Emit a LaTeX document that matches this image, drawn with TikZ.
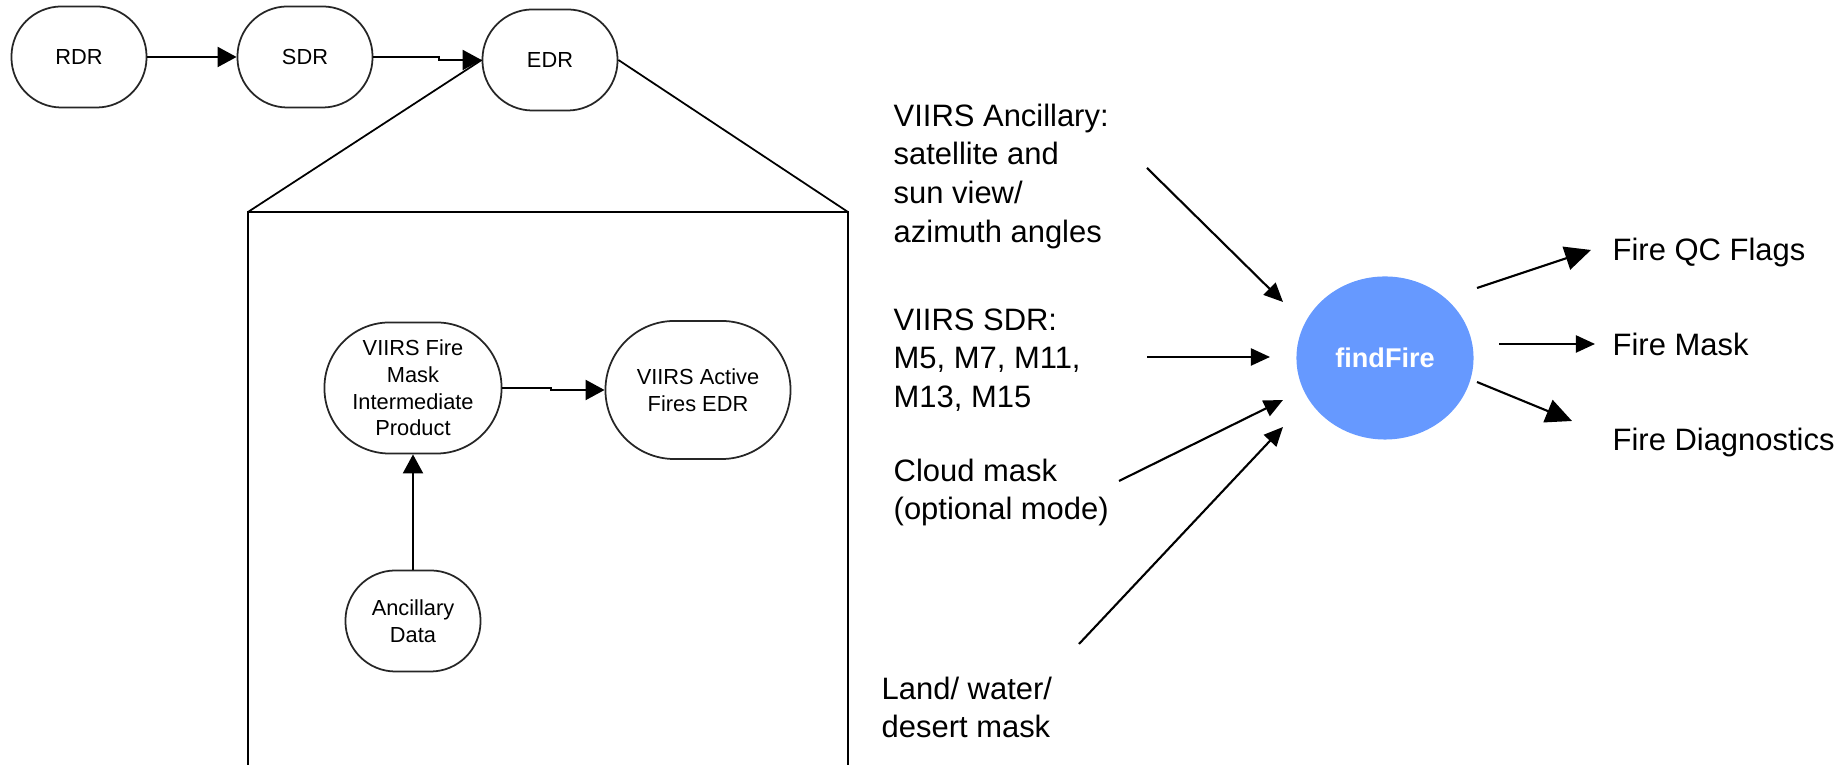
\documentclass[tikz,border=0pt]{standalone}
\usepackage{fontspec}
\setmainfont{Liberation Sans}
\usetikzlibrary{arrows.meta,shapes.geometric,positioning}
\definecolor{fireblue}{RGB}{102,153,255}
\begin{document}
\begin{tikzpicture}[x=0.01cm,y=-0.01cm]
	\useasboundingbox (0,0) rectangle (1847,765);
	% Define the styles
	\tikzstyle{stage} = [draw=black!85, line width=0.5pt, rectangle, rounded corners=0.5cm, minimum width=1.35cm, minimum height=1.01cm, align=center, inner sep=0pt, font=\fontsize{6.2}{7.6}\selectfont];
	\tikzstyle{flow} = [-{Triangle[length=0.19cm,width=0.2cm]}, line width=0.6pt];
	\tikzstyle{intext} = [anchor=north west, align=left, inner sep=0pt, font=\fontsize{8.8}{11}\selectfont];
	\tikzstyle{feed} = [-{Triangle[length=0.19cm,width=0.17cm]}, line width=0.6pt];
	\tikzstyle{bigfeed} = [-{Triangle[length=0.26cm,width=0.24cm]}, line width=0.6pt];
	
	% Processing chain
	\node[stage] (rdr) at (79,57) {RDR};
	\node[stage] (sdr) at (305,57) {SDR};
	\node[stage] (edr) at (550,60) {EDR};
	\draw[flow] (rdr) -- (sdr);
	\draw[flow] (sdr.east) -- ++(66,0) |- (edr.west);
	
	% Zoom box under EDR
	\coordinate (boxtl) at (248,212);
	\coordinate (boxtr) at (848,212);
	\draw[line width=0.6pt] (248,765) -- (boxtl) -- (boxtr) -- (848,765);
	\draw[line width=0.5pt] (boxtl) -- (edr.west);
	\draw[line width=0.5pt] (edr.east) -- (boxtr);
	
	\node[stage, minimum width=1.77cm, minimum height=1.31cm, rounded corners=0.65cm] (fmask) at (413,388) {VIIRS Fire\\Mask\\Intermediate\\Product};
	\node[stage, minimum width=1.85cm, minimum height=1.38cm, rounded corners=0.69cm] (afedr) at (698,390) {VIIRS Active\\Fires EDR};
	\node[stage] (anc) at (413,621) {Ancillary\\Data};
	\draw[flow] (fmask.east) -- ++(49,0) |- (afedr.west);
	\draw[flow] (anc) -- (fmask);
	
	% findFire and its inputs
	\node[ellipse, fill=fireblue, minimum width=1.77cm, minimum height=1.63cm, inner sep=0pt, text=white, font=\fontsize{7.7}{9}\selectfont\bfseries] (ff) at (1385,358) {findFire};
	
	\node[intext] (ancin) at (893,103) {VIIRS Ancillary:\\satellite and\\sun view/\\azimuth angles};
	\node[intext] (sdrin) at (893,308) {VIIRS SDR:\\M5, M7, M11,\\M13, M15};
	\node[intext] (cloudin) at (893,458) {Cloud mask\\(optional mode)};
	\node[intext] (landin) at (881,676) {Land/ water/\\desert mask};
	
	\foreach \n/\sx/\sy/\ex/\ey in {1/1147/168/1283/302, 2/1147/357/1270/357, 3/1119/481/1283/400, 4/1079/644/1283/427}
	{
		\coordinate (s\n) at (\sx,\sy);
		\coordinate (e\n) at (\ex,\ey);
		\draw[feed] (s\n) -- (e\n);
	}
	
	% Outputs
	\node[intext] (qc) at (1612,237) {Fire QC Flags};
	\node[intext] (mask) at (1612,332) {Fire Mask};
	\node[intext] (diag) at (1612,427) {Fire Diagnostics};
	
	\coordinate (qcs) at (1477,288);
	\coordinate (qce) at (1591,250);
	\coordinate (masks) at (1499,344);
	\coordinate (maske) at (1595,344);
	\coordinate (diags) at (1477,382);
	\coordinate (diage) at (1572,421);
	\draw[bigfeed] (qcs) -- (qce);
	\draw[feed] (masks) -- (maske);
	\draw[bigfeed] (diags) -- (diage);
\end{tikzpicture}
\end{document}
